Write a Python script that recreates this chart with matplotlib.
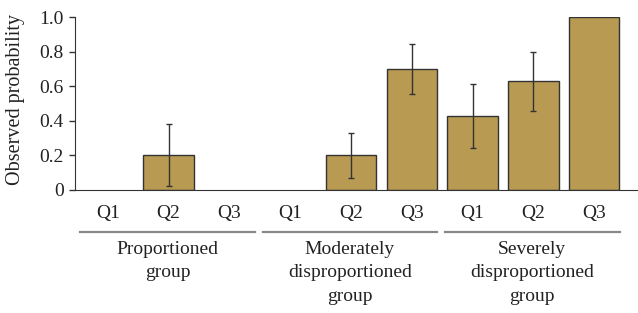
import numpy as np
import matplotlib
matplotlib.use("Agg")
from matplotlib import pyplot as plt
from matplotlib import transforms

plt.rcParams['font.family'] = ['Liberation Serif', 'DejaVu Serif']

# data
quarters = ['Q1', 'Q2', 'Q3'] * 3
groups = ['Proportioned\ngroup', 'Moderately\ndisproportioned\ngroup', 'Severely\ndisproportioned\ngroup']
probs = [0.0, 0.20, 0.0, 0.0, 0.20, 0.70, 0.43, 0.63, 1.0]
err_low = [0.0, 0.025, 0.0, 0.0, 0.07, 0.555, 0.245, 0.455, 1.0]
err_high = [0.0, 0.38, 0.0, 0.0, 0.33, 0.845, 0.615, 0.797, 1.0]
yticks = [0, 0.2, 0.4, 0.6, 0.8, 1.0]
yticklabels = ['0', '0.2', '0.4', '0.6', '0.8', '1.0']

bar_color = '#b89a52'
edge_color = '#333333'
text_color = '#222222'

fig = plt.figure(figsize=(6.38, 3.13), dpi=100)
ax = fig.add_axes([75 / 638, 1 - 190 / 313, 563 / 638, 172.7 / 313])

x = np.arange(len(probs))
probs_a = np.array(probs)
# zero bars are not drawn as outlines in the reference
lw = np.where(probs_a > 0, 1.0, 0.0)
ax.bar(x, probs, width=0.83, color=bar_color, edgecolor=edge_color, linewidth=lw)

# error bars only where there is an interval
lo = probs_a - np.array(err_low)
hi = np.array(err_high) - probs_a
has_err = (lo > 0) | (hi > 0)
ax.errorbar(x[has_err], probs_a[has_err], yerr=[lo[has_err], hi[has_err]],
            fmt='none', ecolor='#333333', elinewidth=1, capsize=2.5, capthick=1)

ax.set_xlim(-0.54, 8.72)
ax.set_ylim(0, 1.0)

for s in ['top', 'right']:
    ax.spines[s].set_visible(False)
ax.spines['left'].set_color('#333333')
ax.spines['bottom'].set_color('#333333')

ax.set_yticks(yticks)
ax.set_yticklabels(yticklabels, fontsize=14, color=text_color)
ax.tick_params(axis='y', length=4, width=1, color='#333333', pad=4)

ax.set_xticks(x)
ax.set_xticklabels(quarters, fontsize=14, color=text_color)
ax.tick_params(axis='x', length=0, pad=11)

fig.text(16 / 638, 1 - 100 / 313, 'Observed probability', rotation=90,
         ha='center', va='center', fontsize=14.5, color=text_color)

# group brackets under the quarter labels
trans = transforms.blended_transform_factory(ax.transData, ax.transAxes)
line_y = -(232 - 190) / 172.7
for i, g in enumerate(groups):
    c = i * 3
    ax.plot([c - 0.45, c + 2.42], [line_y, line_y], transform=trans,
            color='#888888', lw=1.6, clip_on=False)
    ax.text(c + 0.98, line_y - 0.05, g, transform=trans, ha='center', va='top',
            fontsize=14, color=text_color, linespacing=1.5)

fig.savefig('out.png', dpi=100)
